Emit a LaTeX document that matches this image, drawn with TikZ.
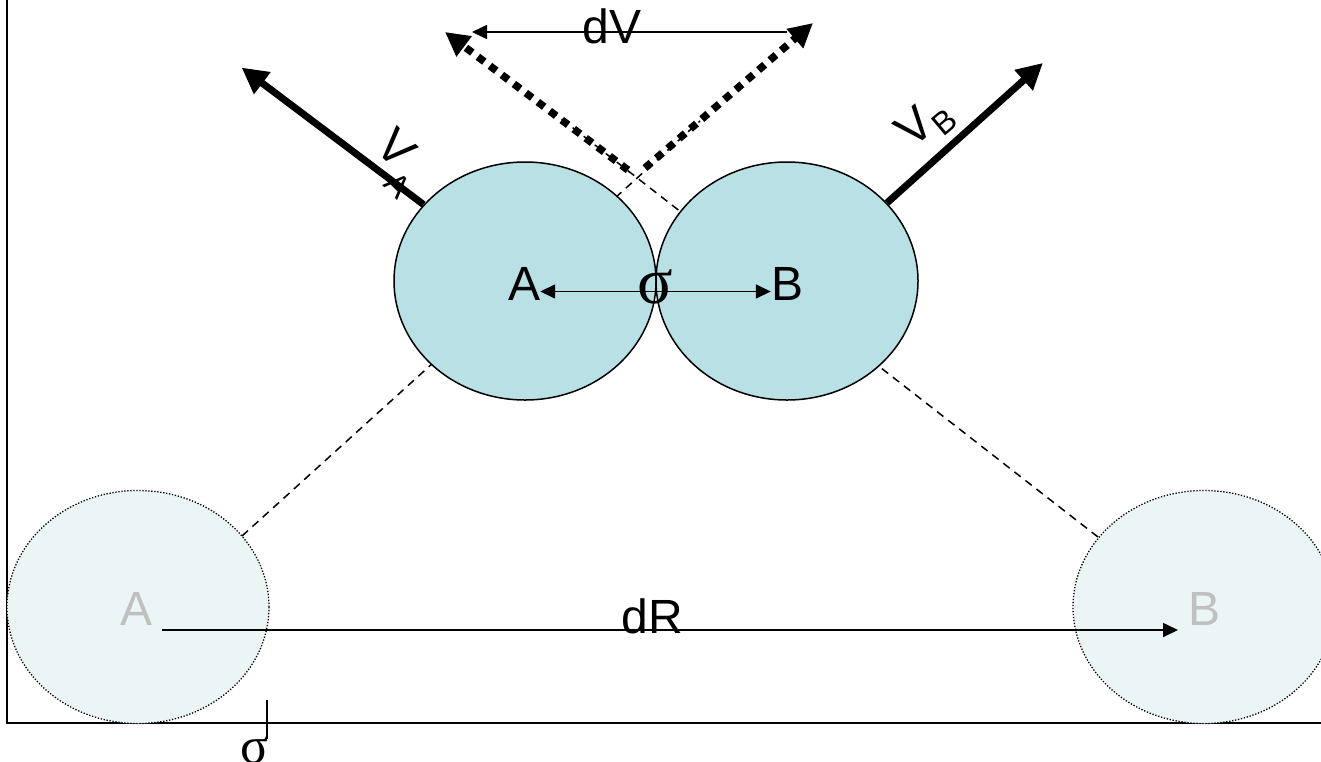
\documentclass[tikz,border=0pt]{standalone}
\usepackage{fontspec}
\setmainfont{Liberation Sans}
\newfontfamily\sigmafont{Liberation Serif}
\usetikzlibrary{positioning,arrows.meta,shapes.geometric}
\definecolor{ballfill}{RGB}{185,224,228}
\definecolor{ghostfill}{RGB}{235,245,246}
\definecolor{ghosttext}{RGB}{192,192,192}

\begin{document}
\begin{tikzpicture}[
  x=1pt, y=-1pt,
  font=\fontsize{48}{52}\selectfont,
  ball/.style = {
    ellipse, draw=black, line width=1.5pt, fill=ballfill,
    minimum width=262pt, minimum height=238pt, inner sep=0pt,
  },
  ghost/.style = {
    ellipse, draw=black, line width=1.3pt, fill=ghostfill,
    dash pattern=on 1.3pt off 1.7pt,
    minimum width=262pt, minimum height=233pt, inner sep=0pt,
  },
  tag/.style = {inner sep=0pt, anchor=base},
  sig/.style = {inner sep=0pt, anchor=base, font=\sigmafont\fontsize{66}{68}\selectfont},
  arrow/.style = {-{Triangle[length=15pt,width=14pt]}, line width=1.6pt},
  twoarrow/.style = {{Triangle[length=15pt,width=14pt]}-{Triangle[length=15pt,width=14pt]}, line width=1.6pt},
  vel/.style = {-{Triangle[length=26pt,width=26pt]}, line width=7pt},
  dvel/.style = {-{Triangle[length=24pt,width=24pt]}, line width=7.5pt, dash pattern=on 8pt off 7pt},
  traj/.style = {line width=1.5pt, dash pattern=on 8pt off 6pt},
]
  \useasboundingbox (0,0) rectangle (1321,761);

  % trajectories (behind the balls)
  \coordinate (trA0) at (242,536);
  \coordinate (trA1) at (700,121);
  \coordinate (trB0) at (1098,537);
  \coordinate (trB1) at (550,110);
  \draw[traj] (trA0) -- (trA1);
  \draw[traj] (trB0) -- (trB1);

  % frame
  \draw[line width=1.6pt] (7,0) -- (7,723) -- (1321,723);

  % balls before and at contact
  \node[ghost] (gA) at (138,607) {};
  \node[ghost] (gB) at (1204,607) {};
  \node[tag, text=ghosttext] (ga) at (137,625) {A};
  \node[tag, text=ghosttext] (gb) at (1204,625) {B};
  \node[ball] (A) at (525,281) {};
  \node[ball] (B) at (787,281) {};
  \node[tag] (a) at (524,300) {A};
  \node[tag] (b) at (787,300) {B};

  % separation sigma
  \draw[twoarrow] ([yshift=-8pt]a.east) -- ([yshift=-8pt]b.west);
  \node[sig] (sigc) at (655,303) {σ};

  % velocities
  \draw[vel] (A.143) -- ++(-182,-137);
  \draw[vel] (B.38) -- ++(156,-140);
  \node[rotate=-45, inner sep=0pt] (va) at (397,163)
    {V\raisebox{-20pt}{\fontsize{32}{34}\selectfont A}};
  \node[rotate=40, inner sep=0pt] (vb) at (926,124)
    {V\raisebox{-10pt}{\fontsize{32}{34}\selectfont B}};

  % relative velocity
  \coordinate (dvA0) at (628,170);
  \coordinate (dvA1) at (445,32);
  \coordinate (dvB0) at (645,168);
  \coordinate (dvB1) at (813,23);
  \draw[dvel] (dvA0) -- (dvA1);
  \draw[dvel] (dvB0) -- (dvB1);
  \coordinate (dV0) at (787,32);
  \coordinate (dV1) at (472,32);
  \draw[arrow] (dV0) -- (dV1);
  \node[tag] (dv) at (612,43) {dV};

  % distance
  \coordinate (dR0) at (162,630);
  \coordinate (dR1) at (1178,630);
  \draw[arrow] (dR0) -- (dR1);
  \node[tag] (dr) at (652,633) {dR};

  % sigma tick
  \draw[line width=1.6pt] (267,700) -- (267,739);
  \node[sig, font=\sigmafont\fontsize{52}{54}\selectfont] (sigb) at (255,763) {σ};
\end{tikzpicture}
\end{document}
